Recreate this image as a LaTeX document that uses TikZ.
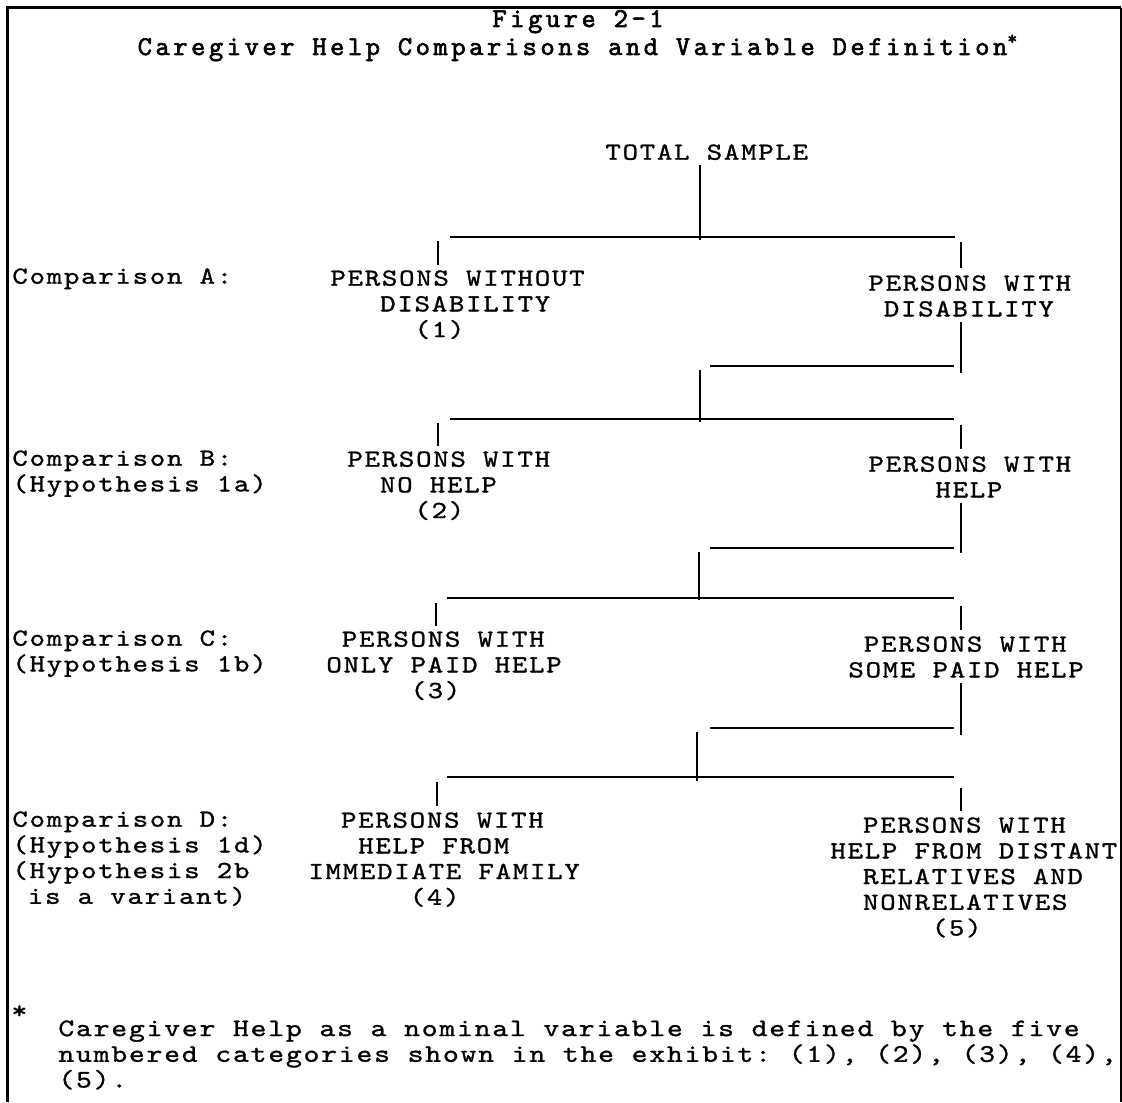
\documentclass[tikz,border=0pt]{standalone}
\usepackage{fontspec}
\setmonofont{lmmono10-regular.otf}[FakeStretch=1.2, LetterSpace=7, FakeBold=1.1]
\newfontfamily\titlefont{lmmono10-regular.otf}[FakeStretch=1.0, LetterSpace=13, FakeBold=2.2]
\newcommand\bodyfont{\fontsize{12.27}{12.85}\selectfont\ttfamily}
\newcommand\footfont{\fontsize{12.6}{12.85}\selectfont\ttfamily}
\newcommand\ttlfont{\fontsize{13.6}{14}\selectfont\titlefont}
\newcommand\pd[1]{\phantom{#1}}
\tikzset{
  txt/.style={font=\bodyfont, align=left, inner sep=0pt, anchor=north west},
  ftxt/.style={txt, font=\footfont},
  ttl/.style={font=\ttlfont, inner sep=0pt, anchor=base},
  ln/.style={line width=1.1pt},
  frame/.style={line width=1.5pt}
}
\begin{document}
\begin{tikzpicture}[x=0.5pt,y=-0.5pt]
\useasboundingbox (0,0) rectangle (1122,1102);
% frame (open at bottom)
\coordinate (fbl) at (7,1102); \coordinate (ftl) at (7,8);
\coordinate (ftr) at (1121,8); \coordinate (fbr) at (1121,1102);
\draw[frame] (fbl) -- (ftl) -- (ftr);
\draw[line width=1pt] (ftr) -- (fbr);
% titles
\node[ttl] (title) at (578,27) {Figure 2-1};
\node[ttl] (subtitle) at (578,55) {Caregiver Help Comparisons and Variable Definition\textsuperscript{*}};
% text nodes
\node[txt] (total) at (605,144) {TOTAL SAMPLE};
\node[txt] (cmpA) at (12,268) {Comparison A:};
\node[txt] (n1) at (330,270) {PERSONS WITHOUT\\\pd{XXX}DISABILITY\\\pd{XXXXX}(1)};
\node[txt] (dis) at (868,275) {PERSONS WITH\\\pd{X}DISABILITY};
\node[txt] (cmpB) at (12,450) {Comparison B:\\(Hypothesis 1a)};
\node[txt] (n2) at (347,451) {PERSONS WITH\\\pd{XX}NO HELP\\\pd{XXXX}(2)};
\node[txt] (help) at (868,456) {PERSONS WITH\\\pd{XXXX}HELP};
\node[txt] (cmpC) at (12,630) {Comparison C:\\(Hypothesis 1b)};
\node[txt] (n3) at (326,631) {\pd{X}PERSONS WITH\\ONLY PAID HELP\\\pd{XXXXX}(3)};
\node[txt] (paid) at (848,636) {\pd{X}PERSONS WITH\\SOME PAID HELP};
\node[txt] (cmpD) at (12,811) {Comparison D:\\(Hypothesis 1d)\\(Hypothesis 2b\\\pd{X}is a variant)};
\node[txt] (n4) at (308,812) {\pd{XX}PERSONS WITH\\\pd{XXX}HELP FROM\\IMMEDIATE FAMILY\\\pd{XXXXXX}(4)};
\node[txt] (n5) at (830,817) {\pd{XX}PERSONS WITH\\HELP FROM DISTANT\\\pd{XX}RELATIVES AND\\\pd{XX}NONRELATIVES\\\pd{XXXXXX}(5)};
\node[ftxt] (star) at (11,1005) {*};
\node[ftxt] (foot) at (58,1020) {Caregiver Help as a nominal variable is defined by the five\\numbered categories shown in the exhibit: (1), (2), (3), (4),\\(5).};
% level A
\coordinate (a1) at (700,165); \coordinate (a2) at (700,240);
\coordinate (a3) at (450,237); \coordinate (a4) at (955,237);
\coordinate (a5) at (438,241); \coordinate (a6) at (438,265);
\coordinate (a7) at (961,242); \coordinate (a8) at (961,268);
\draw[ln] (a1) -- (a2); \draw[ln] (a3) -- (a4);
\draw[ln] (a5) -- (a6); \draw[ln] (a7) -- (a8);
% level B
\coordinate (b1) at (961,322); \coordinate (b2) at (961,373);
\coordinate (b3) at (710,366); \coordinate (b4) at (954,366);
\coordinate (b5) at (700,370); \coordinate (b6) at (700,422);
\coordinate (b7) at (450,419); \coordinate (b8) at (954,419);
\coordinate (b9) at (438,423); \coordinate (b10) at (438,446);
\coordinate (b11) at (961,425); \coordinate (b12) at (961,449);
\draw[ln] (b1) -- (b2); \draw[ln] (b3) -- (b4); \draw[ln] (b5) -- (b6);
\draw[ln] (b7) -- (b8); \draw[ln] (b9) -- (b10); \draw[ln] (b11) -- (b12);
% level C
\coordinate (c1) at (961,503); \coordinate (c2) at (961,553);
\coordinate (c3) at (710,548); \coordinate (c4) at (954,548);
\coordinate (c5) at (699,552); \coordinate (c6) at (699,600);
\coordinate (c7) at (447,598); \coordinate (c8) at (954,598);
\coordinate (c9) at (436,603); \coordinate (c10) at (436,626);
\coordinate (c11) at (961,606); \coordinate (c12) at (961,630);
\draw[ln] (c1) -- (c2); \draw[ln] (c3) -- (c4); \draw[ln] (c5) -- (c6);
\draw[ln] (c7) -- (c8); \draw[ln] (c9) -- (c10); \draw[ln] (c11) -- (c12);
% level D
\coordinate (d1) at (961,683); \coordinate (d2) at (961,735);
\coordinate (d3) at (710,728); \coordinate (d4) at (954,728);
\coordinate (d5) at (697,732); \coordinate (d6) at (697,781);
\coordinate (d7) at (447,777); \coordinate (d8) at (954,777);
\coordinate (d9) at (437,782); \coordinate (d10) at (437,806);
\coordinate (d11) at (961,788); \coordinate (d12) at (961,811);
\draw[ln] (d1) -- (d2); \draw[ln] (d3) -- (d4); \draw[ln] (d5) -- (d6);
\draw[ln] (d7) -- (d8); \draw[ln] (d9) -- (d10); \draw[ln] (d11) -- (d12);
\end{tikzpicture}
\end{document}
